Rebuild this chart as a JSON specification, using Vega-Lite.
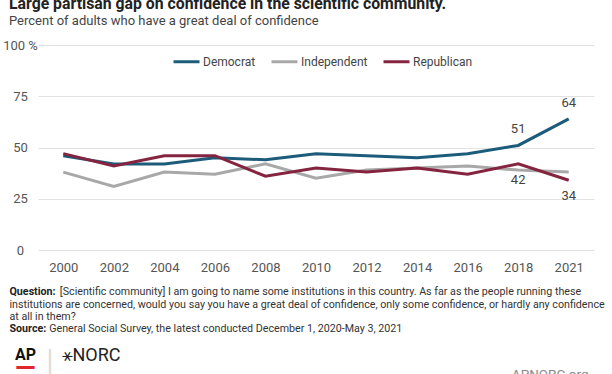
{
  "$schema": "https://vega.github.io/schema/vega-lite/v6.json",
  "width": 556,
  "height": 205,
  "autosize": {"type": "none"},
  "padding": {"left": 38, "top": 45, "right": 18, "bottom": 124},
  "background": "white",
  "title": {
    "text": "Large partisan gap on confidence in the scientific community.",
    "subtitle": "Percent of adults who have a great deal of confidence",
    "anchor": "start",
    "frame": "group",
    "dx": -29,
    "offset": 10.5,
    "font": "Roboto",
    "fontSize": 15.8,
    "fontWeight": "bold",
    "color": "#222222",
    "subtitleFont": "Roboto",
    "subtitleFontSize": 13,
    "subtitleColor": "#444444",
    "subtitlePadding": 2
  },
  "config": {"view": {"stroke": null}, "font": "Roboto"},
  "data": {
    "values": [
      {"year": "2000", "party": "Democrat", "value": 46},
      {"year": "2002", "party": "Democrat", "value": 42},
      {"year": "2004", "party": "Democrat", "value": 42},
      {"year": "2006", "party": "Democrat", "value": 45},
      {"year": "2008", "party": "Democrat", "value": 44},
      {"year": "2010", "party": "Democrat", "value": 47},
      {"year": "2012", "party": "Democrat", "value": 46},
      {"year": "2014", "party": "Democrat", "value": 45},
      {"year": "2016", "party": "Democrat", "value": 47},
      {"year": "2018", "party": "Democrat", "value": 51},
      {"year": "2021", "party": "Democrat", "value": 64},
      {"year": "2000", "party": "Independent", "value": 38},
      {"year": "2002", "party": "Independent", "value": 31},
      {"year": "2004", "party": "Independent", "value": 38},
      {"year": "2006", "party": "Independent", "value": 37},
      {"year": "2008", "party": "Independent", "value": 42},
      {"year": "2010", "party": "Independent", "value": 35},
      {"year": "2012", "party": "Independent", "value": 39},
      {"year": "2014", "party": "Independent", "value": 40},
      {"year": "2016", "party": "Independent", "value": 41},
      {"year": "2018", "party": "Independent", "value": 39},
      {"year": "2021", "party": "Independent", "value": 38},
      {"year": "2000", "party": "Republican", "value": 47},
      {"year": "2002", "party": "Republican", "value": 41},
      {"year": "2004", "party": "Republican", "value": 46},
      {"year": "2006", "party": "Republican", "value": 46},
      {"year": "2008", "party": "Republican", "value": 36},
      {"year": "2010", "party": "Republican", "value": 40},
      {"year": "2012", "party": "Republican", "value": 38},
      {"year": "2014", "party": "Republican", "value": 40},
      {"year": "2016", "party": "Republican", "value": 37},
      {"year": "2018", "party": "Republican", "value": 42},
      {"year": "2021", "party": "Republican", "value": 34}
    ]
  },
  "resolve": {
    "scale": {"x": "independent", "y": "independent"},
    "axis": {"x": "independent", "y": "independent"}
  },
  "layer": [
    {
      "mark": {"type": "line", "strokeWidth": 3},
      "encoding": {
        "x": {
          "field": "year", "type": "ordinal",
          "scale": {"domain": ["2000","2002","2004","2006","2008","2010","2012","2014","2016","2018","2021"]},
          "axis": {
            "orient": "bottom", "domain": false, "ticks": false, "grid": false,
            "labelAngle": 0, "labelFont": "Roboto", "labelFontSize": 13, "labelColor": "#555555", "labelPadding": 11,
            "title": [
              "\u200b\u00a0\u00a0\u00a0\u00a0\u00a0\u00a0\u00a0\u00a0\u00a0\u00a0\u00a0\u00a0\u00a0\u00a0\u00a0\u00a0\u00a0\u00a0\u00a0[Scientific community] I am going to name some institutions in this country. As far as the people running these",
              "institutions are concerned, would you say you have a great deal of confidence, only some confidence, or hardly any confidence",
              "at all in them?",
              "\u200b\u00a0\u00a0\u00a0\u00a0\u00a0\u00a0\u00a0\u00a0\u00a0\u00a0\u00a0\u00a0\u00a0\u00a0\u00a0General Social Survey, the latest conducted December 1, 2020-May 3, 2021"
            ],
            "titleFont": "Roboto", "titleFontSize": 10.7, "titleFontWeight": "normal", "titleColor": "#333333",
            "titleAlign": "left", "titleBaseline": "alphabetic", "titleX": -29, "titleY": 44.7, "titleLineHeight": 12.35
          }
        },
        "y": {
          "field": "value", "type": "quantitative",
          "scale": {"domain": [0, 100]},
          "axis": {
            "orient": "left", "values": [0, 25, 50, 75, 100], "domain": false, "ticks": false,
            "grid": true, "gridColor": "#e2e2e2", "gridWidth": 1,
            "labelExpr": "datum.value == 100 ? '100 %' : datum.label",
            "labelFont": "Roboto", "labelFontSize": 13, "labelColor": "#555555",
            "labelAlign": "center", "labelPadding": 18, "labelBaseline": "middle",
            "title": null
          }
        },
        "color": {
          "field": "party", "type": "nominal",
          "scale": {"domain": ["Democrat", "Independent", "Republican"], "range": ["#1c5c7a", "#a8a8a8", "#84243f"]},
          "legend": {
            "title": null, "orient": "none", "legendX": 134, "legendY": 2, "direction": "horizontal",
            "symbolType": "stroke", "symbolSize": 676, "symbolStrokeWidth": 3,
            "labelFont": "Roboto", "labelFontSize": 12, "labelColor": "#444444", "labelOffset": 2, "columnPadding": 9
          }
        }
      }
    },
    {
      "transform": [{"filter": "datum.party == 'Democrat' && (datum.year == '2018' || datum.year == '2021')"}],
      "mark": {"type": "text", "dy": -16, "font": "Roboto", "fontSize": 13, "color": "#444444", "baseline": "middle"},
      "encoding": {
        "x": {
          "field": "year", "type": "ordinal",
          "scale": {"domain": ["2000","2002","2004","2006","2008","2010","2012","2014","2016","2018","2021"]},
          "axis": {
            "orient": "bottom", "domain": false, "ticks": false, "grid": false, "labels": false,
            "title": ["Question:", "\u200b", "\u200b", "Source:"],
            "titleFont": "Roboto", "titleFontSize": 10.7, "titleFontWeight": "bold", "titleColor": "#222222",
            "titleAlign": "left", "titleBaseline": "alphabetic", "titleX": -29, "titleY": 44.7, "titleLineHeight": 12.35
          }
        },
        "y": {
          "field": "value", "type": "quantitative",
          "scale": {"domain": [0, 100]},
          "axis": {
            "orient": "left", "domain": false, "ticks": false, "grid": false, "labels": false,
            "title": "AP", "titleAngle": 0, "titleFont": "Roboto", "titleFontSize": 16, "titleFontWeight": "bold", "titleColor": "#111111",
            "titleAlign": "left", "titleBaseline": "alphabetic", "titleX": -23.5, "titleY": 314
          }
        },
        "text": {"field": "value", "type": "quantitative"}
      }
    },
    {
      "transform": [{"filter": "datum.party == 'Republican' && (datum.year == '2018' || datum.year == '2021')"}],
      "mark": {"type": "text", "dy": 16, "font": "Roboto", "fontSize": 13, "color": "#444444", "baseline": "middle"},
      "encoding": {
        "x": {
          "field": "year", "type": "ordinal",
          "scale": {"domain": ["2000","2002","2004","2006","2008","2010","2012","2014","2016","2018","2021"]},
          "axis": {
            "orient": "bottom", "domain": false, "ticks": false, "grid": false, "labels": false,
            "title": "APNORC.org",
            "titleFont": "Roboto", "titleFontSize": 13.5, "titleFontWeight": "normal", "titleColor": "#8a8a8a",
            "titleAlign": "right", "titleBaseline": "alphabetic", "titleX": 550, "titleY": 128
          }
        },
        "y": {
          "field": "value", "type": "quantitative",
          "scale": {"domain": [0, 100]},
          "axis": {
            "orient": "left", "domain": false, "ticks": false, "grid": false, "labels": false,
            "title": "\u26b9NORC", "titleAngle": 0, "titleFont": "Roboto", "titleFontSize": 18, "titleFontWeight": "normal", "titleColor": "#222222",
            "titleAlign": "left", "titleBaseline": "alphabetic", "titleX": 23, "titleY": 315
          }
        },
        "text": {"field": "value", "type": "quantitative"}
      }
    },
    {
      "mark": {"type": "point", "opacity": 0},
      "encoding": {
        "x": {
          "field": "year", "type": "ordinal",
          "scale": {"domain": ["2000","2002","2004","2006","2008","2010","2012","2014","2016","2018","2021"]},
          "axis": {
            "orient": "bottom", "domain": false, "ticks": false, "grid": false, "labels": false,
            "title": "|",
            "titleFont": "Roboto", "titleFontSize": 30, "titleFontWeight": "normal", "titleColor": "#dddddd",
            "titleAlign": "center", "titleBaseline": "alphabetic", "titleX": 11.3, "titleY": 119.5
          }
        },
        "y": {
          "field": "value", "type": "quantitative",
          "scale": {"domain": [0, 100]},
          "axis": {
            "orient": "left", "domain": false, "ticks": false, "grid": false, "labels": false,
            "title": "\u2014", "titleAngle": 0, "titleFont": "Roboto", "titleFontSize": 27, "titleFontWeight": "bold", "titleColor": "#e0262e",
            "titleAlign": "center", "titleBaseline": "alphabetic", "titleX": -13.3, "titleY": 331
          }
        }
      }
    }
  ]
}
